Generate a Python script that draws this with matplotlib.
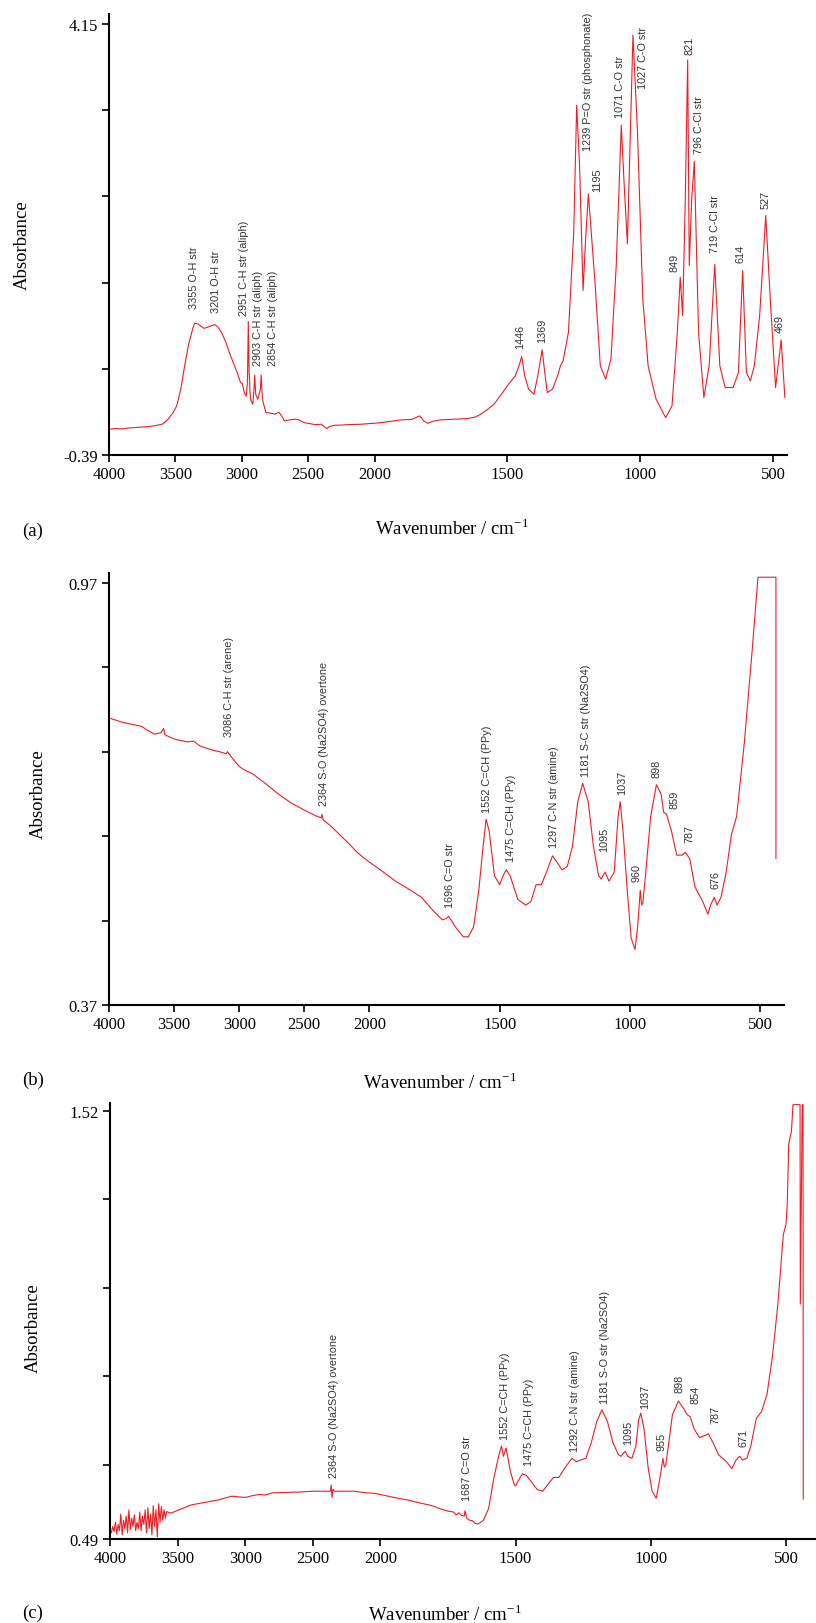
import numpy as np
import matplotlib.pyplot as plt
from matplotlib.ticker import FixedLocator, FixedFormatter

plt.rcParams['font.family'] = ['Liberation Serif', 'DejaVu Serif']
plt.rcParams['mathtext.fontset'] = 'stix'

# ---------------- panel (a) ----------------
wn_a = [4000, 3950, 3900, 3850, 3800, 3700, 3650, 3600, 3560, 3520, 3490, 3460, 3430, 3400, 3370,
        3355, 3330, 3300, 3283, 3250, 3215, 3201, 3180, 3153, 3120, 3094, 3060, 3035, 3010, 2995,
        2980, 2965, 2957, 2951, 2945, 2935, 2917, 2908, 2903, 2895, 2880, 2860, 2854, 2845, 2819,
        2780, 2750, 2720, 2690, 2680, 2640, 2600, 2570, 2530, 2500, 2450, 2400, 2380, 2360, 2340,
        2300, 2250, 2200, 2150, 2100, 2050, 2000, 1950, 1900, 1860, 1830, 1815, 1800, 1780, 1750,
        1700, 1650, 1620, 1600, 1575, 1550, 1525, 1500, 1470, 1455, 1446, 1435, 1420, 1400, 1385,
        1369, 1360, 1350, 1330, 1310, 1300, 1290, 1270, 1250, 1239, 1228, 1215, 1205, 1195, 1180,
        1170, 1150, 1130, 1110, 1090, 1071, 1060, 1048, 1040, 1027, 1010, 990, 970, 940, 904,
        880, 860, 849, 840, 830, 821, 815, 806, 796, 780, 760, 740, 719, 700, 680,
        650, 630, 614, 600, 585, 570, 550, 527, 510, 490, 469, 455]
ab_a = [-0.12, -0.11, -0.115, -0.105, -0.10, -0.09, -0.08, -0.066, -0.02, 0.05, 0.127, 0.30, 0.55, 0.78, 0.937,
        1.00, 0.99, 0.96, 0.944, 0.96, 0.979, 0.98, 0.96, 0.90, 0.80, 0.69, 0.57, 0.479, 0.374, 0.36,
        0.26, 0.23, 0.40, 1.014, 0.50, 0.20, 0.145, 0.30, 0.451, 0.25, 0.198, 0.30, 0.451, 0.20, 0.057,
        0.05, 0.04, 0.06, 0.0, -0.031, -0.02, -0.013, -0.02, -0.05, -0.056, -0.07, -0.066, -0.09, -0.112, -0.09,
        -0.077, -0.075, -0.07, -0.068, -0.066, -0.06, -0.056, -0.04, -0.02, -0.015, 0.022, -0.03, -0.056, -0.035, -0.02,
        -0.013, -0.006, 0.01, 0.04, 0.09, 0.145, 0.24, 0.339, 0.444, 0.56, 0.648, 0.45, 0.303, 0.25, 0.45,
        0.719, 0.50, 0.268, 0.303, 0.45, 0.55, 0.602, 0.902, 1.957, 3.295, 2.661, 1.342, 1.90, 2.362, 1.80,
        1.43, 0.55, 0.409, 0.62, 1.606, 3.084, 2.45, 1.834, 2.661, 4.034, 3.013, 1.253, 0.55, 0.198, 0.004,
        0.127, 0.902, 1.482, 1.078, 2.309, 3.77, 1.606, 2.30, 2.704, 0.90, 0.215, 0.55, 1.616, 0.55, 0.321,
        0.321, 0.479, 1.553, 0.479, 0.391, 0.55, 1.078, 2.133, 1.253, 0.321, 0.824, 0.215]
labels_a = ['3355 O-H str', '3201 O-H str', '2951 C-H str (aliph)', '2903 C-H str (aliph)',
            '2854 C-H str (aliph)', '1446', '1369', '1239 P=O str (phosphonate)', '1195',
            '1071 C-O str', '1027 C-O str', '821', '796 C-Cl str', '849', '719 C-Cl str',
            '614', '527', '469']
lab_x_a = [3358, 3193, 2984, 2878, 2768, 1450, 1368, 1196, 1161, 1075, 988, 816, 777, 869, 718, 621, 529, 475]
lab_y_a = [1.155, 1.113, 1.085, 0.557, 0.557, 0.733, 0.796, 2.82, 2.387, 3.172, 3.471, 3.83, 2.795,
           1.553, 1.746, 1.64, 2.21, 0.902]

# ---------------- panel (b) ----------------
wn_b = [4000, 3950, 3900, 3850, 3800, 3750, 3700, 3650, 3600, 3580, 3570, 3500, 3450, 3400, 3350,
        3300, 3250, 3200, 3150, 3100, 3090, 3050, 3000, 2950, 2900, 2850, 2800, 2700, 2600, 2500,
        2400, 2370, 2364, 2355, 2300, 2250, 2200, 2150, 2100, 2050, 2000, 1950, 1900, 1850, 1800,
        1750, 1720, 1705, 1696, 1685, 1670, 1640, 1620, 1600, 1580, 1565, 1552, 1540, 1520, 1500,
        1485, 1475, 1460, 1430, 1400, 1380, 1360, 1340, 1320, 1297, 1280, 1260, 1240, 1220, 1200,
        1181, 1160, 1140, 1120, 1110, 1095, 1080, 1060, 1045, 1037, 1025, 1010, 995, 980, 970,
        960, 955, 950, 940, 920, 898, 880, 870, 859, 840, 820, 800, 787, 770, 750,
        720, 700, 690, 676, 665, 650, 630, 610, 590, 560, 530, 508, 439, 439]
ab_b = [0.778, 0.775, 0.772, 0.770, 0.768, 0.766, 0.760, 0.755, 0.757, 0.763, 0.754, 0.748, 0.746, 0.744, 0.745,
        0.738, 0.735, 0.732, 0.730, 0.727, 0.730, 0.720, 0.709, 0.703, 0.699, 0.692, 0.685, 0.670, 0.657, 0.647,
        0.638, 0.636, 0.641, 0.633, 0.625, 0.616, 0.607, 0.598, 0.588, 0.580, 0.573, 0.560, 0.546, 0.535, 0.523,
        0.502, 0.491, 0.493, 0.496, 0.490, 0.481, 0.467, 0.467, 0.481, 0.533, 0.590, 0.634, 0.617, 0.554, 0.541,
        0.555, 0.562, 0.554, 0.520, 0.512, 0.517, 0.541, 0.541, 0.559, 0.582, 0.573, 0.562, 0.567, 0.596, 0.659,
        0.685, 0.659, 0.596, 0.554, 0.549, 0.559, 0.546, 0.559, 0.638, 0.659, 0.612, 0.533, 0.465, 0.449, 0.481,
        0.533, 0.512, 0.515, 0.554, 0.638, 0.683, 0.670, 0.644, 0.641, 0.617, 0.583, 0.583, 0.587, 0.578, 0.538,
        0.517, 0.499, 0.512, 0.523, 0.512, 0.523, 0.559, 0.612, 0.638, 0.744, 0.875, 0.978, 0.978, 0.578]
labels_b = ['3086 C-H str (arene)', '2364 S-O (Na2SO4) overtone', '1696 C=O str', '1552 C=CH (PPy)',
            '1475 C=CH (PPy)', '1297 C-N str (amine)', '1181 S-C str (Na2SO4)', '1095', '1037',
            '960', '898', '859', '787', '676']
lab_x_b = [3080, 2352, 1690, 1550, 1456, 1290, 1170, 1100, 1030, 976, 896, 830, 770, 670]
lab_y_b = [0.752, 0.654, 0.509, 0.644, 0.575, 0.594, 0.696, 0.589, 0.67, 0.546, 0.694, 0.65, 0.602, 0.536]

# ---------------- panel (c) ----------------
wn_c = [4000, 3990, 3980, 3970, 3960, 3950, 3940, 3930, 3920, 3910, 3900, 3890, 3880, 3870, 3860,
        3850, 3840, 3830, 3820, 3810, 3800, 3790, 3780, 3770, 3760, 3750, 3740, 3730, 3720, 3710,
        3700, 3690, 3680, 3670, 3660, 3650, 3640, 3630, 3620, 3610, 3600, 3590, 3580,
        3550, 3500, 3450, 3400, 3300, 3200, 3100, 3000, 2950, 2900, 2850, 2800, 2700, 2600, 2500,
        2400, 2370, 2364, 2358, 2350, 2340, 2300, 2200, 2100, 2050, 2000, 1950, 1900, 1850, 1820,
        1800, 1780, 1750, 1730, 1720, 1710, 1700, 1690, 1687, 1680, 1670, 1660, 1650, 1640, 1630,
        1620, 1600, 1580, 1560, 1552, 1545, 1535, 1520, 1505, 1500, 1490, 1475, 1460, 1440, 1420,
        1400, 1380, 1360, 1340, 1320, 1292, 1275, 1260, 1240, 1220, 1200, 1181, 1160, 1140, 1120,
        1110, 1095, 1085, 1070, 1055, 1045, 1037, 1025, 1010, 995, 980, 970, 955, 950, 945,
        935, 920, 898, 880, 865, 854, 840, 820, 800, 787, 770, 750, 720, 700, 685,
        671, 660, 645, 630, 610, 590, 570, 550, 530, 510, 500, 495, 490, 487, 480,
        474, 448, 447, 440, 437, 436]
ab_c = [0.512, 0.505, 0.520, 0.508, 0.530, 0.502, 0.525, 0.510, 0.550, 0.500, 0.535, 0.515, 0.545, 0.505, 0.560,
        0.512, 0.540, 0.520, 0.548, 0.510, 0.530, 0.515, 0.555, 0.510, 0.545, 0.525, 0.560, 0.505, 0.565, 0.515,
        0.550, 0.500, 0.570, 0.520, 0.560, 0.495, 0.575, 0.530, 0.568, 0.535, 0.560, 0.540, 0.556,
        0.552, 0.559, 0.565, 0.572, 0.578, 0.584, 0.593, 0.590, 0.594, 0.597, 0.596, 0.601, 0.602, 0.603, 0.605,
        0.605, 0.605, 0.620, 0.590, 0.610, 0.605, 0.605, 0.605, 0.601, 0.600, 0.597, 0.590, 0.584, 0.576, 0.572,
        0.568, 0.563, 0.557, 0.555, 0.548, 0.553, 0.547, 0.545, 0.558, 0.540, 0.535, 0.534, 0.528, 0.526, 0.530,
        0.534, 0.563, 0.638, 0.697, 0.714, 0.689, 0.709, 0.655, 0.620, 0.618, 0.630, 0.647, 0.643, 0.626, 0.609,
        0.605, 0.622, 0.638, 0.638, 0.659, 0.684, 0.676, 0.680, 0.684, 0.722, 0.772, 0.801, 0.772, 0.722, 0.693,
        0.689, 0.701, 0.689, 0.684, 0.714, 0.776, 0.793, 0.755, 0.663, 0.605, 0.588, 0.622, 0.684, 0.663, 0.667,
        0.714, 0.789, 0.822, 0.805, 0.789, 0.784, 0.755, 0.734, 0.739, 0.743, 0.722, 0.693, 0.676, 0.659, 0.680,
        0.689, 0.680, 0.684, 0.714, 0.780, 0.797, 0.839, 0.930, 1.055, 1.222, 1.247, 1.30, 1.44, 1.45, 1.47,
        1.535, 1.535, 1.055, 1.535, 1.535, 0.586]
labels_c = ['2364 S-O (Na2SO4) overtone', '1687 C=O str', '1552 C=CH (PPy)', '1475 C=CH (PPy)',
            '1292 C-N str (amine)', '1181 S-O str (Na2SO4)', '1095', '1037', '955', '898', '854',
            '787', '671']
lab_x_c = [2340, 1680, 1540, 1450, 1281, 1168, 1085, 1022, 960, 893, 836, 759, 657]
lab_y_c = [0.638, 0.584, 0.730, 0.668, 0.701, 0.818, 0.718, 0.805, 0.704, 0.843, 0.818, 0.768, 0.714]

x_ticks = [4000, 3500, 3000, 2500, 2000, 1500, 1000, 500]


# wavenumber axis: 4000-2000 compressed by half relative to 2000-400
def fwd(x):
    x = np.asarray(x, dtype=float)
    return np.where(x > 2000, 2000 + (x - 2000) / 2, x)


def inv(t):
    t = np.asarray(t, dtype=float)
    return np.where(t > 2000, 2000 + (t - 2000) * 2, t)


W, H = 816, 1624
fig = plt.figure(figsize=(W / 100, H / 100), dpi=100)


def px_rect(left, top, right, bottom):
    return [left / W, 1 - bottom / H, (right - left) / W, (bottom - top) / H]


def panel(rect, wn, ab, ylim, yticks, ylabels, xright, labels, lx, ly):
    ax = fig.add_axes(rect)
    ax.set_xscale('function', functions=(fwd, inv))
    ax.plot(wn, ab, color='#ee1c24', lw=0.8)
    ax.set_xlim(4000, xright)
    ax.set_ylim(*ylim)
    ax.xaxis.set_major_locator(FixedLocator(x_ticks))
    ax.xaxis.set_major_formatter(FixedFormatter([str(t) for t in x_ticks]))
    ax.xaxis.set_minor_locator(FixedLocator([]))
    ax.yaxis.set_major_locator(FixedLocator(yticks))
    ax.yaxis.set_major_formatter(FixedFormatter(ylabels))
    for s in ['top', 'right']:
        ax.spines[s].set_visible(False)
    for s in ['left', 'bottom']:
        ax.spines[s].set_linewidth(1.5)
    ax.tick_params(direction='out', length=5, width=1.2, labelsize=12, pad=3)
    for t, x, y in zip(labels, lx, ly):
        ax.text(x, y, t, rotation=90, ha='center', va='bottom', fontsize=7.8,
                family=['Liberation Sans', 'DejaVu Sans'], color='#333333')
    return ax


yt_a = list(np.linspace(4.15, -0.39, 6))
panel(px_rect(109, 15, 787, 456), wn_a, ab_a, (-0.39, 4.255), yt_a,
      ['4.15', '', '', '', '', '-0.39'], 447, labels_a, lab_x_a, lab_y_a)

yt_b = list(np.linspace(0.97, 0.37, 6))
panel(px_rect(109, 574, 784, 1006), wn_b, ab_b, (0.37, 0.984), yt_b,
      ['0.97', '', '', '', '', '0.37'], 408, labels_b, lab_x_b, lab_y_b)

yt_c = [1.52, 1.307, 1.094, 0.881, 0.668, 0.49]
panel(px_rect(110, 1104, 816, 1540), wn_c, ab_c, (0.49, 1.539), yt_c,
      ['1.52', '', '', '', '', '0.49'], 389, labels_c, lab_x_c, lab_y_c)

# outer texts
for (x, y) in [(22, 245), (38, 794), (33, 1328)]:
    fig.text(x / W, 1 - y / H, 'Absorbance', rotation=90, ha='center', va='center', fontsize=13.5)
for (x, y, s) in [(33, 531, '(a)'), (33, 1080, '(b)'), (33, 1613, '(c)')]:
    fig.text(x / W, 1 - y / H, s, ha='center', va='center', fontsize=13.5)
for (x, y) in [(452, 529), (440, 1083), (445, 1615)]:
    fig.text(x / W, 1 - y / H, r'Wavenumber / cm$^{\mathregular{-1}}$', ha='center', va='center',
             fontsize=13.5)

fig.savefig('out.png', dpi=100, facecolor='white')
